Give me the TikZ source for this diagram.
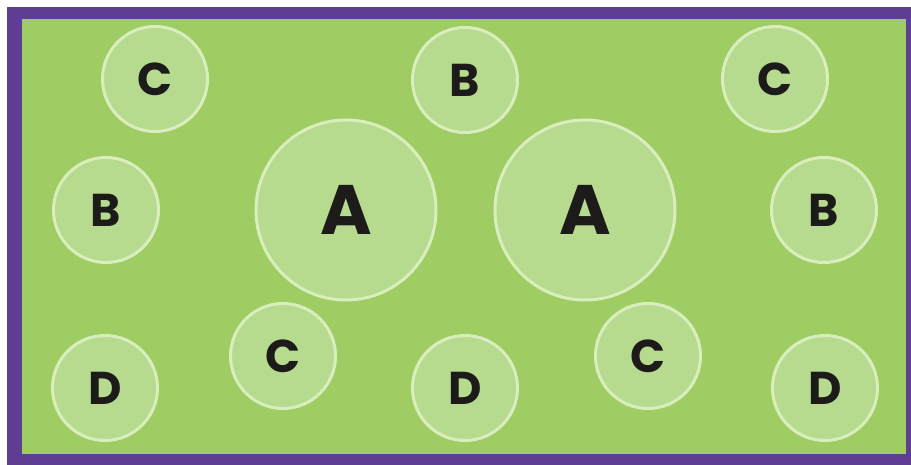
\documentclass[tikz,border=0pt]{standalone}
\usepackage{fontspec}
\setmainfont{Poppins}[BoldFont={* Bold}]
\usepackage{xcolor}
\usepackage{tikz}
\definecolor{PZPurple}{HTML}{5F3D92}
\definecolor{PZField}{HTML}{9FCD63}
\definecolor{PZDisc}{HTML}{B7DB8E}
\definecolor{PZRim}{HTML}{D9EEBD}
\definecolor{PZInk}{HTML}{1D1B1A}
\tikzset{
  pzdisc/.style={
    circle,
    inner sep=0pt,
    draw=PZRim,
    line width=3pt,
    fill=PZDisc,
    text=PZInk,
    font=\bfseries\fontsize{46}{48}\selectfont,
    minimum size=105pt
  },
  pzbig/.style={pzdisc,minimum size=180pt,font=\bfseries\fontsize{70}{72}\selectfont},
}

\begin{document}
\begin{tikzpicture}[x=1pt,y=-1pt]
  \useasboundingbox[fill=white] (0,0) rectangle (911,465);
  % frame and field
  \fill[PZPurple] (7,7) rectangle (911,465);
  \fill[PZField] (22,19) rectangle (906,454);

  % large discs
  \node[pzbig] (aleft) at (346,210) {A};
  \node[pzbig] (aright) at (585,210) {A};

  % top row
  \node[pzdisc] (ctopl) at (155,79) {C};
  \node[pzdisc] (btop) at (465,80) {B};
  \node[pzdisc] (ctopr) at (775,79) {C};

  % middle row
  \node[pzdisc] (bleft) at (106,210) {B};
  \node[pzdisc] (bright) at (824,210) {B};

  % bottom row
  \node[pzdisc] (dleft) at (105,388) {D};
  \node[pzdisc] (cbotl) at (283,356) {C};
  \node[pzdisc] (dmid) at (465,388) {D};
  \node[pzdisc] (cbotr) at (648,356) {C};
  \node[pzdisc] (dright) at (825,388) {D};
\end{tikzpicture}
\end{document}
